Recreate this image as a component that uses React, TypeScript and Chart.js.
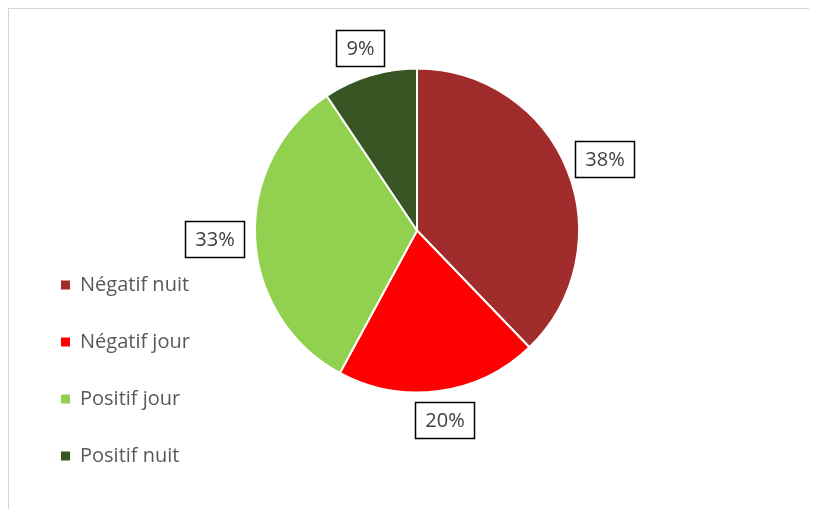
import React, { useEffect, useRef } from "react";
import { Chart, registerables } from "chart.js";

Chart.register(...registerables);

const categories = ["Négatif nuit", "Négatif jour", "Positif jour", "Positif nuit"];
const values = [37.8, 20.1, 32.7, 9.4];
const colors = ["#A02C2C", "#FF0000", "#92D050", "#375623"];

const FONT = '"Open Sans", "Noto Sans", sans-serif';
const CENTER_X = 408;

const boxLabelPlugin = {
  id: "boxLabels",
  afterDatasetsDraw(chart: any) {
    const ctx = chart.ctx;
    const meta = chart.getDatasetMeta(0);
    const data = chart.data.datasets[0].data as number[];
    const total = data.reduce((a, b) => a + b, 0);
    ctx.save();
    ctx.font = `20px ${FONT}`;
    ctx.textAlign = "center";
    ctx.textBaseline = "middle";
    const gap = 11;
    meta.data.forEach((arc: any, i: number) => {
      const p = arc.getProps(["x", "y", "startAngle", "endAngle", "outerRadius"], true);
      const mid = (p.startAngle + p.endAngle) / 2;
      const text = Math.round((data[i] / total) * 100) + "%";
      const tw = ctx.measureText(text).width;
      const W = Math.round(tw + 20);
      const H = 36;
      const c = Math.cos(mid);
      const s = Math.sin(mid);
      const ax = p.x + c * (p.outerRadius + gap);
      const ay = p.y + s * (p.outerRadius + gap);
      const cx = ax + (c * W) / 2;
      const cy = ay + (s * H) / 2;
      const left = Math.round(cx - W / 2) + 0.5;
      const top = Math.round(cy - H / 2) + 0.5;
      ctx.fillStyle = "#ffffff";
      ctx.fillRect(left, top, W, H);
      ctx.strokeStyle = "#000000";
      ctx.lineWidth = 1.5;
      ctx.strokeRect(left, top, W, H);
      ctx.fillStyle = "#404040";
      ctx.fillText(text, left + W / 2, top + H / 2 + 1);
    });
    ctx.restore();
  },
};

export default function App() {
  const ref = useRef<HTMLCanvasElement>(null);
  useEffect(() => {
    document.documentElement.style.overflow = "hidden";
    document.body.style.overflow = "hidden";
    if (!ref.current) return;
    Chart.defaults.font.family = FONT;
    const chart = new Chart(ref.current, {
      type: "pie",
      data: {
        labels: categories,
        datasets: [
          {
            data: values,
            backgroundColor: colors,
            borderColor: "#ffffff",
            borderWidth: 2,
            radius: 162,
          } as any,
        ],
      },
      options: {
        responsive: false,
        animation: false,
        layout: { padding: { left: 15, right: 150, top: 0, bottom: 6 } },
        plugins: {
          tooltip: { enabled: false },
          title: {
            display: true,
            text: " ",
            position: "bottom",
            fullSize: false,
            font: { size: 10, lineHeight: 1 },
            padding: { top: 41, bottom: 0 },
          } as any,
          legend: {
            position: "left",
            align: "end",
            labels: {
              boxWidth: 9,
              boxHeight: 9,
              padding: 37,
              color: "#595959",
              font: { size: 20, family: FONT },
              generateLabels: (ch: any) => {
                const base = (Chart as any).overrides.pie.plugins.legend.labels.generateLabels(ch);
                return base.map((l: any) => ({ ...l, lineWidth: 0, strokeStyle: "rgba(0,0,0,0)" }));
              },
            },
          } as any,
        },
      },
      plugins: [boxLabelPlugin],
    });
    const lw = (chart as any).legend.width;
    const areaLeft = 15 + lw;
    const areaRight = 2 * CENTER_X - areaLeft;
    (chart.options.layout as any).padding.right = 808 - areaRight;
    chart.update();
    return () => chart.destroy();
  }, []);
  return (
    <div
      style={{
        borderTop: "1px solid #D4D4D4",
        borderLeft: "1px solid #D4D4D4",
        width: 830,
        height: 520,
        background: "#ffffff",
      }}
    >
      <canvas ref={ref} width={808} height={500} style={{ display: "block", width: 808, height: 500 }} />
    </div>
  );
}
